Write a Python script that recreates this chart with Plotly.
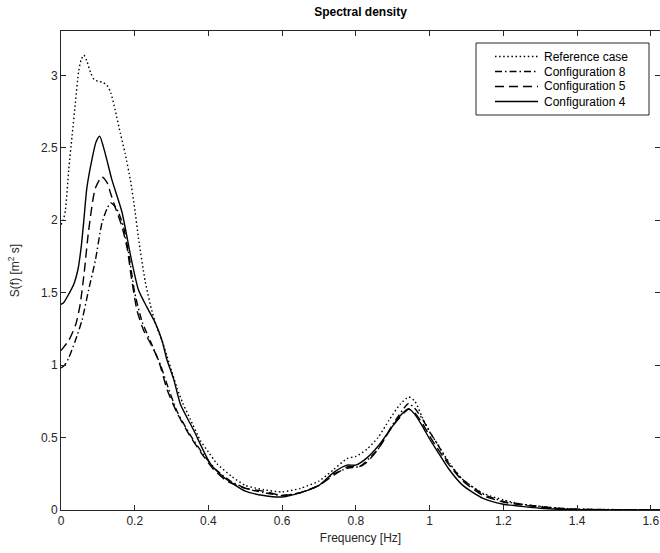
import plotly.graph_objects as go

# ---- data ----
freq_ref = [0, 0.006, 0.012, 0.021, 0.03, 0.039, 0.048, 0.055, 0.062, 0.07, 0.08, 0.09, 0.1, 0.115,
            0.125, 0.135, 0.147, 0.161, 0.174, 0.188, 0.2, 0.21, 0.229, 0.247, 0.26, 0.274, 0.288,
            0.3, 0.315, 0.33, 0.35, 0.378, 0.4, 0.423, 0.464, 0.5, 0.55, 0.6, 0.65, 0.7, 0.74,
            0.776, 0.8, 0.83, 0.86, 0.89, 0.92, 0.943, 0.96, 0.98, 1.0, 1.02, 1.055, 1.09, 1.145,
            1.2, 1.25, 1.3, 1.35, 1.4, 1.5, 1.625]
s_ref = [1.97, 2.0, 2.07, 2.35, 2.58, 2.81, 3.03, 3.11, 3.14, 3.10, 3.02, 2.97, 2.96, 2.95,
         2.93, 2.88, 2.76, 2.60, 2.46, 2.28, 2.08, 1.88, 1.57, 1.37, 1.26, 1.17, 1.06,
         0.96, 0.84, 0.74, 0.63, 0.48, 0.40, 0.32, 0.23, 0.17, 0.14, 0.125, 0.15, 0.20, 0.28,
         0.355, 0.37, 0.42, 0.50, 0.62, 0.73, 0.78, 0.75, 0.64, 0.54, 0.46, 0.32, 0.21, 0.115,
         0.07, 0.04, 0.025, 0.012, 0.006, 0.003, 0.001]

freq_c8 = [0, 0.01, 0.021, 0.039, 0.057, 0.075, 0.093, 0.111, 0.125, 0.135, 0.145, 0.155, 0.17,
           0.185, 0.2, 0.22, 0.245, 0.27, 0.29, 0.315, 0.35, 0.39, 0.42, 0.46, 0.5, 0.55, 0.6,
           0.65, 0.7, 0.74, 0.78, 0.81, 0.86, 0.9, 0.943, 0.96, 0.98, 1.0, 1.02, 1.05, 1.09,
           1.145, 1.2, 1.25, 1.3, 1.35, 1.4, 1.5, 1.625]
s_c8 = [0.98, 1.0, 1.05, 1.17, 1.31, 1.52, 1.72, 1.98, 2.08, 2.12, 2.10, 2.06, 1.95,
        1.75, 1.50, 1.30, 1.15, 1.00, 0.85, 0.68, 0.52, 0.37, 0.28, 0.20, 0.15, 0.12, 0.10,
        0.12, 0.17, 0.25, 0.29, 0.30, 0.42, 0.59, 0.735, 0.70, 0.63, 0.54, 0.46, 0.33, 0.21,
        0.11, 0.06, 0.04, 0.025, 0.012, 0.005, 0.002, 0.001]

freq_c5 = [0, 0.003, 0.021, 0.04, 0.052, 0.063, 0.075, 0.093, 0.111, 0.125, 0.134, 0.147, 0.165,
           0.18, 0.19, 0.206, 0.224, 0.247, 0.265, 0.288, 0.315, 0.35, 0.387, 0.414, 0.45, 0.5,
           0.55, 0.6, 0.65, 0.7, 0.74, 0.78, 0.81, 0.83, 0.86, 0.9, 0.943, 0.96, 0.98, 1.0, 1.02,
           1.05, 1.09, 1.145, 1.2, 1.25, 1.3, 1.35, 1.4, 1.5, 1.625]
s_c5 = [1.10, 1.11, 1.17, 1.28, 1.42, 1.64, 1.93, 2.22, 2.30, 2.26, 2.19, 2.09, 1.96,
        1.80, 1.62, 1.38, 1.24, 1.13, 1.03, 0.83, 0.67, 0.51, 0.37, 0.28, 0.20, 0.15,
        0.13, 0.10, 0.12, 0.17, 0.24, 0.30, 0.30, 0.33, 0.42, 0.58, 0.695, 0.67, 0.60, 0.51, 0.43,
        0.32, 0.20, 0.10, 0.055, 0.035, 0.02, 0.01, 0.005, 0.002, 0.001]

freq_c4 = [0, 0.007, 0.021, 0.035, 0.046, 0.055, 0.062, 0.07, 0.084, 0.095, 0.105, 0.12, 0.138,
           0.165, 0.19, 0.21, 0.233, 0.256, 0.274, 0.287, 0.306, 0.324, 0.36, 0.405, 0.44, 0.5,
           0.55, 0.6, 0.65, 0.7, 0.74, 0.776, 0.8, 0.83, 0.86, 0.9, 0.92, 0.943, 0.96, 0.98, 1.0,
           1.02, 1.05, 1.09, 1.145, 1.2, 1.25, 1.3, 1.35, 1.4, 1.5, 1.625]
s_c4 = [1.42, 1.43, 1.49, 1.56, 1.66, 1.82, 2.00, 2.22, 2.42, 2.54, 2.58, 2.46, 2.28,
        2.06, 1.74, 1.52, 1.40, 1.29, 1.17, 1.04, 0.90, 0.73, 0.55, 0.32, 0.23, 0.13,
        0.10, 0.09, 0.12, 0.17, 0.26, 0.31, 0.31, 0.36, 0.44, 0.58, 0.65, 0.70, 0.66, 0.58, 0.49,
        0.41, 0.29, 0.17, 0.08, 0.04, 0.025, 0.012, 0.005, 0.002, 0.001, 0.0005]

x_ticks = [0, 0.2, 0.4, 0.6, 0.8, 1, 1.2, 1.4, 1.6]
x_tick_labels = ["0", "0.2", "0.4", "0.6", "0.8", "1", "1.2", "1.4", "1.6"]
y_ticks = [0, 0.5, 1, 1.5, 2, 2.5, 3]
y_tick_labels = ["0", "0.5", "1", "1.5", "2", "2.5", "3"]

series_names = ["Reference case", "Configuration 8", "Configuration 5", "Configuration 4"]
series_x = [freq_ref, freq_c8, freq_c5, freq_c4]
series_y = [s_ref, s_c8, s_c5, s_c4]
series_dash = ["1.5px,2.6px", "7px,3px,1.5px,3px", "9px,5px", "solid"]

FONT = "Liberation Sans, Arial, Helvetica, sans-serif"
TXT = "#262626"
W, H = 660, 553
ML, MR, MT, MB = 61, 0, 31, 43
PW, PH = W - ML - MR, H - MT - MB


def px_to_paper(px, py):
    return (px - ML) / PW, (H - MB - py) / PH


fig = go.Figure()
for name, xs, ys, dash in zip(series_names, series_x, series_y, series_dash):
    fig.add_trace(go.Scatter(
        x=xs, y=ys, name=name, mode="lines", showlegend=False,
        line=dict(color="black", width=1.4, dash=dash, shape="spline", smoothing=0.6),
    ))

# ---- legend box drawn manually (MATLAB-like compact legend) ----
shapes = []
annotations = []
bx0, by0 = px_to_paper(476, 43)
bx1, by1 = px_to_paper(649, 115)
shapes.append(dict(type="rect", xref="paper", yref="paper", x0=bx0, x1=bx1, y0=by1, y1=by0,
                   line=dict(color=TXT, width=1), fillcolor="white", layer="above"))
row_y = [56.5, 71.5, 86.5, 101.5]
for name, dash, ry in zip(series_names, series_dash, row_y):
    lx0, ly = px_to_paper(495, ry)
    lx1, _ = px_to_paper(538, ry)
    shapes.append(dict(type="line", xref="paper", yref="paper", x0=lx0, x1=lx1, y0=ly, y1=ly,
                       line=dict(color="black", width=1.4, dash=dash), layer="above"))
    tx, ty = px_to_paper(542, ry)
    annotations.append(dict(text=name, xref="paper", yref="paper", x=tx, y=ty,
                            xanchor="left", yanchor="middle", showarrow=False,
                            font=dict(family=FONT, size=12, color="black")))

axis_common = dict(
    showgrid=False, zeroline=False, showline=True, linecolor=TXT, linewidth=1,
    mirror="allticks", ticks="inside", ticklen=5, tickcolor=TXT, tickwidth=1,
    tickfont=dict(family=FONT, size=12, color=TXT),
)

fig.update_layout(
    width=W, height=H,
    margin=dict(l=ML, r=MR, t=MT, b=MB),
    paper_bgcolor="white", plot_bgcolor="white",
    font=dict(family=FONT, size=12, color=TXT),
    title=dict(text="<b>Spectral density</b>", x=(ML + W) / 2 / W, xanchor="center",
               y=1 - 12 / H, yanchor="middle", font=dict(family=FONT, size=12, color="black")),
    xaxis=dict(range=[0, 1.625], tickvals=x_ticks, ticktext=x_tick_labels,
               title=dict(text="Frequency [Hz]", standoff=6, font=dict(family=FONT, size=12, color=TXT)),
               **axis_common),
    yaxis=dict(range=[0, 3.306], tickvals=y_ticks, ticktext=y_tick_labels,
               title=dict(text="S(f) [m<sup>2</sup> s]", standoff=18, font=dict(family=FONT, size=12, color=TXT)),
               **axis_common),
    shapes=shapes,
    annotations=annotations,
    showlegend=False,
)

fig.write_html("out.html")
